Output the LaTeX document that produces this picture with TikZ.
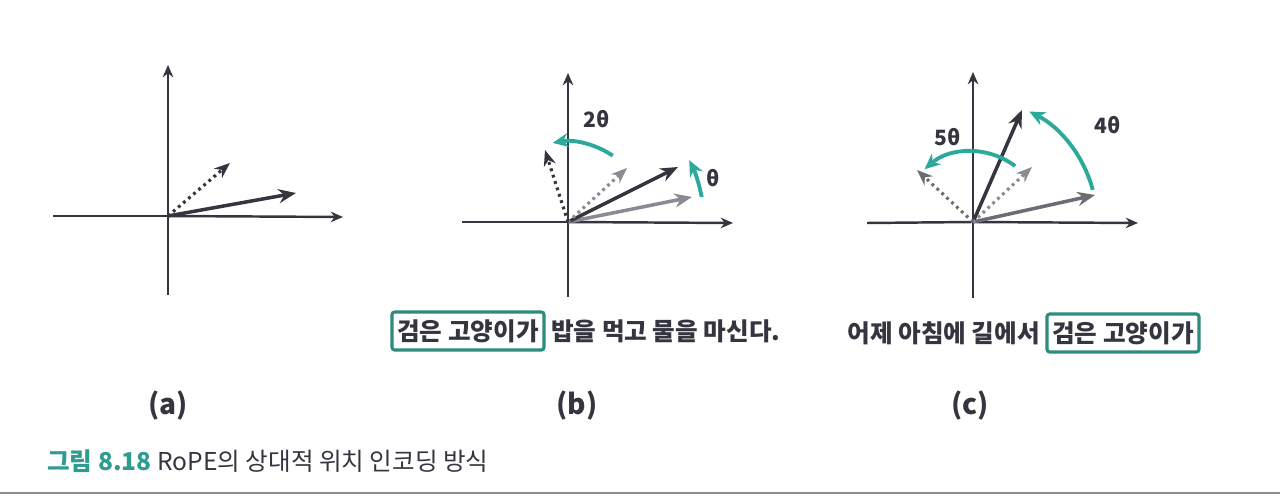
\documentclass[tikz,border=0pt]{standalone}
\usepackage{fontspec}
\setmainfont{Noto Sans CJK KR}
\usetikzlibrary{arrows.meta, positioning}

\definecolor{ink}{HTML}{35353F}
\definecolor{ashgray}{HTML}{8A8A92}
\definecolor{midgray}{HTML}{6C6C74}
\definecolor{turq}{HTML}{2BAA9C}
\definecolor{boxteal}{HTML}{2C8C7E}
\definecolor{capteal}{HTML}{2E9C8E}

\begin{document}
\begin{tikzpicture}[x=0.02cm, y=0.02cm,
  axis/.style={-{Stealth[length=7pt,width=6pt]}, line width=1.4pt, ink},
  vec/.style={-{Stealth[length=10pt,width=8pt]}, line width=2pt, ink},
  dotvec/.style={-{Stealth[length=9pt,width=7pt]}, line width=1.8pt, ink, dash pattern=on 1.6pt off 2.2pt},
  turn/.style={-{Stealth[length=9pt,width=8pt]}, line width=2.2pt, turq},
  ang/.style={font=\fontsize{12}{14}\selectfont\bfseries, text=ink},
  word/.style={font=\fontsize{14}{16}\selectfont\bfseries, text=ink, inner sep=1pt},
  tok/.style={draw=boxteal, line width=1.8pt, rounded corners=1.5pt, font=\fontsize{14}{16}\selectfont\bfseries, text=ink, inner xsep=3pt, minimum height=0.76cm},
  sub/.style={font=\fontsize{16}{18}\selectfont\bfseries, text=ink}
]
  \useasboundingbox (0,0) rectangle (1280,497);

  % (a)
  \coordinate (oa) at (168,281);
  \coordinate (ta) at (168,432);
  \coordinate (ba) at (168,202);
  \coordinate (la) at (53,281);
  \coordinate (ra) at (343,280);
  \coordinate (va) at (296,304);
  \coordinate (da) at (230,334);
  \draw[line width=1.4pt, ink] (ba) -- (oa);
  \draw[axis] (oa) -- (ta);
  \draw[line width=1.4pt, ink] (la) -- (oa);
  \draw[axis] (oa) -- (ra);
  \draw[vec] (oa) -- (va);
  \draw[dotvec] (oa) -- (da);

  % (b)
  \coordinate (ob) at (568,275);
  \coordinate (tb) at (568,424);
  \coordinate (bb) at (568,200);
  \coordinate (lb) at (462,275);
  \coordinate (rb) at (733,274);
  \draw[line width=1.4pt, ink] (bb) -- (ob);
  \draw[axis] (ob) -- (tb);
  \draw[line width=1.4pt, ink] (lb) -- (ob);
  \draw[axis] (ob) -- (rb);
  \coordinate (vb1) at (692,300);
  \coordinate (vb2) at (678,330);
  \coordinate (db1) at (627,329);
  \coordinate (db2) at (545,347);
  \draw[vec, ashgray] (ob) -- (vb1);
  \draw[vec] (ob) -- (vb2);
  \draw[dotvec, ashgray] (ob) -- (db1);
  \draw[dotvec] (ob) -- (db2);
  \coordinate (th1) at ([shift={(10.6:136)}]ob);
  \draw[turn] (th1) arc[start angle=10.6, end angle=27, radius=136];
  \coordinate (th2) at ([shift={(56:80)}]ob);
  \draw[turn] (th2) arc[start angle=56, end angle=100, radius=82];
  \node[ang] (lth1) at (713,319) {θ};
  \node[ang] (lth2) at (597,378) {2θ};

  % (c)
  \coordinate (oc) at (973,275);
  \coordinate (tc) at (973,425);
  \coordinate (bc) at (973,199);
  \coordinate (lc) at (867,274);
  \coordinate (rc) at (1138,274);
  \draw[line width=1.4pt, ink] (bc) -- (oc);
  \draw[axis] (oc) -- (tc);
  \draw[line width=1.4pt, ink] (lc) -- (oc);
  \draw[axis] (oc) -- (rc);
  \coordinate (vc1) at (1095,302);
  \coordinate (vc2) at (1022,387);
  \coordinate (dc1) at (1032,330);
  \coordinate (dc2) at (917,327);
  \draw[vec, midgray] (oc) -- (vc1);
  \draw[vec] (oc) -- (vc2);
  \draw[dotvec, ashgray] (oc) -- (dc1);
  \draw[dotvec, midgray] (oc) -- (dc2);
  \coordinate (th4) at ([shift={(15:124)}]oc);
  \draw[turn] (th4) arc[start angle=15, end angle=63, radius=124];
  \coordinate (th5) at ([shift={(53:70)}]oc);
  \draw[turn] (th5) arc[start angle=53, end angle=131, radius=72];
  \node[ang] (lth4) at (1108,372) {4θ};
  \node[ang] (lth5) at (948,360) {5θ};

  % sentences
  \node[tok] (catb) at (468,166) {검은 고양이가};
  \node[word, anchor=west] (restb) at ([xshift=2pt]catb.east) {밥을 먹고 물을 마신다.};
  \node[tok] (catc) at (1123,164) {검은 고양이가};
  \node[word, anchor=east] (restc) at ([xshift=-2pt]catc.west) {어제 아침에 길에서};

  % labels
  \node[sub] (suba) at (168,91) {(a)};
  \node[sub] (subb) at (577,91) {(b)};
  \node[sub] (subc) at (970,91) {(c)};

  % caption
  \node[anchor=west, inner sep=0pt, font=\fontsize{14}{16}\selectfont, text=ink] (cap) at (47,36)
    {\textcolor{capteal}{\bfseries 그림 8.18}\ RoPE의 상대적 위치 인코딩 방식};
  \draw[line width=1.7pt, black!45] (0,4) -- (1280,4);
\end{tikzpicture}
\end{document}
